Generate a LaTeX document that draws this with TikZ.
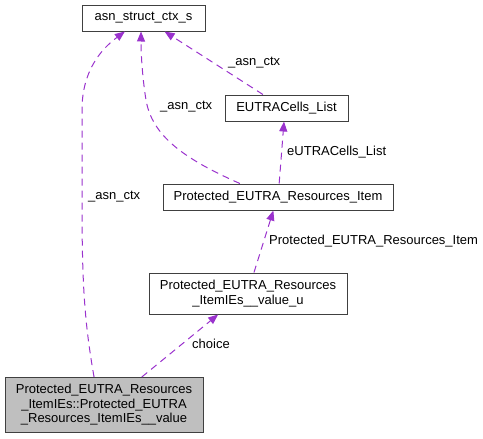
\documentclass[tikz,border=0pt]{standalone}
\usepackage{fontspec}
\setmainfont{Liberation Sans}
\usetikzlibrary{arrows.meta,calc}
\definecolor{edgec}{HTML}{9A32CD}
\definecolor{boxc}{HTML}{404040}
\begin{document}
\begin{tikzpicture}[x=1pt,y=-1pt,
  every node/.style={font=\fontsize{13}{14.5}\selectfont, inner sep=0pt},
  cls/.style={draw=boxc, line width=1pt, fill=white, align=center},
  edge/.style={draw=edgec, line width=1pt, dash pattern=on 7pt off 5pt, -{Triangle[length=10pt,width=8pt]}},
  lbl/.style={anchor=west}]
\useasboundingbox (0,0) rectangle (483,439);
\node[cls, minimum width=123pt, minimum height=26pt] (ctx) at (143.5,18) {asn\_struct\_ctx\_s};
\node[cls, minimum width=123pt, minimum height=26pt] (cells) at (286.5,108) {EUTRACells\_List};
\node[cls, minimum width=230pt, minimum height=26pt] (item) at (278,197) {Protected\_EUTRA\_Resources\_Item};
\node[cls, minimum width=198pt, minimum height=41pt] (valu) at (248,293.5) {Protected\_EUTRA\_Resources\\\_ItemIEs\_\_value\_u};
\node[cls, fill=black!25, minimum width=198pt, minimum height=55pt] (bot) at (104,405) {Protected\_EUTRA\_Resources\\\_ItemIEs::Protected\_EUTRA\\\_Resources\_ItemIEs\_\_value};

\draw[edge] ($(bot.north west)!0.45!(bot.north east)$) .. controls (84,320) and (82,280) .. (82,200) -- (82,110) .. controls (82,72) and (100,50) .. ($(ctx.south west)!0.35!(ctx.south east)$);
\draw[edge] ($(item.north west)!0.335!(item.north east)$) .. controls (182,158) and (152,135) .. (146,100) .. controls (142,75) and (141,52) .. ($(ctx.south west)!0.48!(ctx.south east)$);
\draw[edge] ($(cells.north west)!0.31!(cells.north east)$) -- ($(ctx.south west)!0.67!(ctx.south east)$);
\draw[edge] ($(item.north west)!0.505!(item.north east)$) -- ($(cells.south west)!0.48!(cells.south east)$);
\draw[edge] ($(valu.north west)!0.53!(valu.north east)$) -- ($(item.south west)!0.48!(item.south east)$);
\draw[edge] ($(bot.north west)!0.69!(bot.north east)$) -- ($(valu.south west)!0.35!(valu.south east)$);

\node[lbl] (l1) at (88,197) {\_asn\_ctx};
\node[lbl] (l2) at (160,107) {\_asn\_ctx};
\node[lbl] (l3) at (228,63) {\_asn\_ctx};
\node[lbl] (l4) at (287,152) {eUTRACells\_List};
\node[lbl] (l5) at (269,241) {Protected\_EUTRA\_Resources\_Item};
\node[lbl] (l6) at (192,344) {choice};
\end{tikzpicture}
\end{document}
